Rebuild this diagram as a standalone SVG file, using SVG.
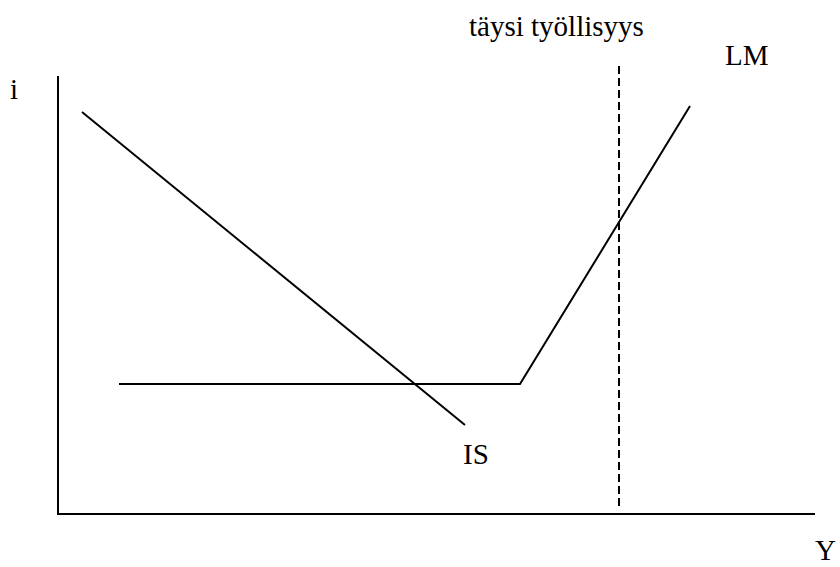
<svg xmlns="http://www.w3.org/2000/svg" width="840" height="567" viewBox="0 0 840 567">
<style>
.ln{stroke:#000;stroke-width:2;fill:none}
.dash{stroke:#000;stroke-width:2;fill:none;stroke-dasharray:8 4}
text{font-family:'Liberation Serif',serif;font-size:29px;fill:#000}
</style>
<rect width="840" height="567" fill="#fff"/>
<g id="axes">
<line class="ln" x1="58" y1="76" x2="58" y2="514"/>
<line class="ln" x1="57" y1="514" x2="815" y2="514"/>
</g>
<g id="connectors">
<line id="IS" class="ln" x1="82" y1="112" x2="465" y2="425"/>
<polyline id="LM" class="ln" points="119,384 520,384 690,106"/>
<line id="full-employment" class="dash" x1="619" y1="66" x2="619" y2="510"/>
</g>
<g id="label-i"><text x="10" y="99">i</text></g>
<g id="label-taysi"><text x="469" y="36">täysi työllisyys</text></g>
<g id="label-LM"><text x="725" y="65">LM</text></g>
<g id="label-IS"><text x="463" y="464">IS</text></g>
<g id="label-Y"><text x="815" y="560" font-size="27">Y</text></g>
</svg>
